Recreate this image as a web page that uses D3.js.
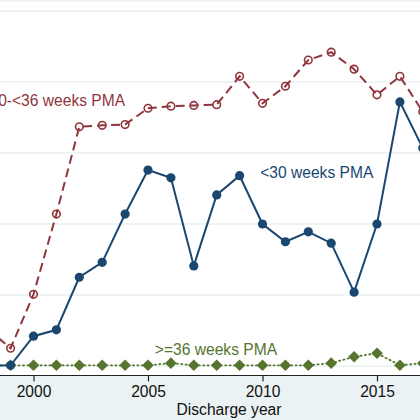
<!DOCTYPE html>
<html>
<head>
<meta charset="utf-8">
<script src="https://cdn.jsdelivr.net/npm/d3@7"></script>
<style>
  html, body { margin: 0; padding: 0; background: #fff; }
  svg { display: block; font-family: "Liberation Sans", Arial, Helvetica, sans-serif; }
</style>
</head>
<body>
<svg id="chart" width="420" height="420"></svg>
<script>
// discharge years and the three PMA series
var years = [1998, 1999, 2000, 2001, 2002, 2003, 2004, 2005, 2006, 2007,
    2008, 2009, 2010, 2011, 2012, 2013, 2014, 2015, 2016, 2017];
var under30 = [0.0, 0.1, 4.2, 5.1, 12.5, 14.6, 21.4, 27.6, 26.5, 14.1,
    24.1, 26.8, 20.0, 17.5, 18.9, 17.3, 10.4, 20.0, 37.2, 30.7];
var from30to36 = [5.2, 2.5, 10.1, 21.4, 33.7, 33.9, 34.0, 36.3, 36.6, 36.7,
    36.8, 40.8, 37.0, 39.4, 43.1, 44.2, 41.8, 38.2, 40.8, 35.8];
var over36 = [0.1, 0.1, 0.1, 0.1, 0.1, 0.1, 0.1, 0.1, 0.4, 0.1,
    0.1, 0.1, 0.1, 0.1, 0.1, 0.4, 1.3, 1.8, 0.1, 0.4];
var yTicks = [0, 10, 20, 30, 40, 50];
var xTicks = [2000, 2005, 2010, 2015];

var width = 420, height = 420;
var navy = '#1a476f', maroon = '#90353b', green = '#55752f';

var svg = d3.select('#chart');

var x = d3.scaleLinear().domain([2000, 2015]).range([33.5, 377]);
var y = d3.scaleLinear().domain([0, 50]).range([366, 11]);
var axisY = 375.5;

// outer region below the plot
svg.append('rect')
    .attr('x', 0).attr('y', axisY)
    .attr('width', width).attr('height', height - axisY)
    .style('fill', '#eaf2f3');
svg.append('rect')
    .attr('x', 0).attr('y', 0)
    .attr('width', width).attr('height', 1.5)
    .style('fill', '#eef2f2');

// gridlines
svg.selectAll('.grid')
    .data(yTicks)
    .enter()
    .append('line')
    .attr('class', 'grid')
    .attr('x1', 0).attr('x2', width)
    .attr('y1', function (d) { return y(d); })
    .attr('y2', function (d) { return y(d); })
    .style('stroke', '#e8eff0')
    .style('stroke-width', 1.6);

// x axis
var xAxis = d3.axisBottom(x)
    .tickValues(xTicks)
    .tickFormat(d3.format('d'))
    .tickSizeInner(6)
    .tickSizeOuter(0)
    .tickPadding(4);
var gx = svg.append('g')
    .attr('transform', 'translate(0,' + axisY + ')')
    .call(xAxis);
gx.select('.domain').remove();
gx.selectAll('.tick line').style('stroke', '#222').style('stroke-width', 1.2);
gx.selectAll('.tick text')
    .style('font-size', '15.6px')
    .style('fill', '#111')
    .style('font-family', '"Liberation Sans", Arial, sans-serif');
svg.append('line')
    .attr('x1', 0).attr('x2', width)
    .attr('y1', axisY).attr('y2', axisY)
    .style('stroke', '#222')
    .style('stroke-width', 1.2);

svg.append('text')
    .attr('x', 229)
    .attr('y', 415)
    .style('text-anchor', 'middle')
    .style('font-size', '15.6px')
    .style('fill', '#111')
    .text('Discharge year');

var content = svg.append('g');

function pts(values) {
    return years.map(function (yr, i) { return { year: yr, value: values[i] }; });
}
var line = d3.line()
    .x(function (d) { return x(d.year); })
    .y(function (d) { return y(d.value); });

// >=36 weeks: dotted line, filled diamonds
content.append('path')
    .datum(pts(over36))
    .attr('d', line)
    .style('fill', 'none')
    .style('stroke', green)
    .style('stroke-width', 1.8)
    .style('stroke-dasharray', '1.2,3.2')
    .style('stroke-linecap', 'round');
content.selectAll('.diamond')
    .data(pts(over36))
    .enter()
    .append('path')
    .attr('class', 'diamond')
    .attr('d', d3.symbol().type(d3.symbolSquare).size(68))
    .attr('transform', function (d) {
        return 'translate(' + x(d.year) + ',' + y(d.value) + ')rotate(45)';
    })
    .style('fill', green);

// 30-<36 weeks: dashed line, hollow circles
content.append('path')
    .datum(pts(from30to36))
    .attr('d', line)
    .style('fill', 'none')
    .style('stroke', maroon)
    .style('stroke-width', 2)
    .style('stroke-dasharray', '9,5');
content.selectAll('.hollow')
    .data(pts(from30to36))
    .enter()
    .append('circle')
    .attr('class', 'hollow')
    .attr('cx', function (d) { return x(d.year); })
    .attr('cy', function (d) { return y(d.value); })
    .attr('r', 3.8)
    .style('fill', 'none')
    .style('stroke', maroon)
    .style('stroke-width', 1.6);

// <30 weeks: solid line, filled circles
content.append('path')
    .datum(pts(under30))
    .attr('d', line)
    .style('fill', 'none')
    .style('stroke', navy)
    .style('stroke-width', 2);
content.selectAll('.dot')
    .data(pts(under30))
    .enter()
    .append('circle')
    .attr('class', 'dot')
    .attr('cx', function (d) { return x(d.year); })
    .attr('cy', function (d) { return y(d.value); })
    .attr('r', 4.6)
    .style('fill', navy);

// series labels
var labels = [
    { text: '30-<36 weeks PMA', year: 2004.0, value: 36.6, anchor: 'end', color: maroon },
    { text: '<30 weeks PMA', year: 2009.9, value: 26.5, anchor: 'start', color: navy },
    { text: '>=36 weeks PMA', year: 2005.3, value: 1.55, anchor: 'start', color: green }
];
svg.selectAll('.labels')
    .data(labels)
    .enter()
    .append('text')
    .attr('class', 'labels')
    .attr('x', function (d) { return x(d.year); })
    .attr('y', function (d) { return y(d.value); })
    .style('text-anchor', function (d) { return d.anchor; })
    .style('font-size', '15.6px')
    .style('fill', function (d) { return d.color; })
    .text(function (d) { return d.text; });
</script>
</body>
</html>
